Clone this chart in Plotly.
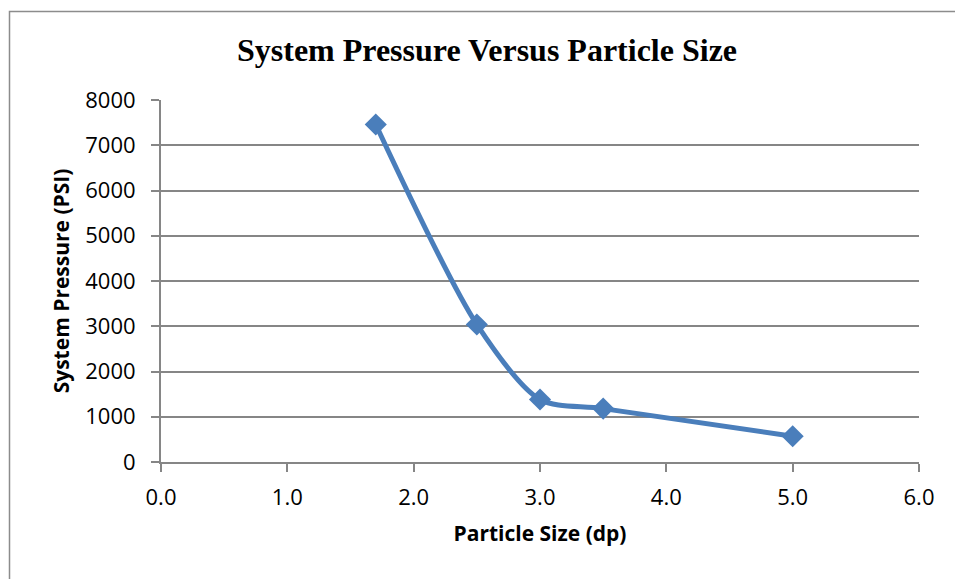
import plotly.graph_objects as go

particle_size = [1.7, 2.5, 3.0, 3.5, 5.0]
system_pressure = [7460, 3040, 1380, 1180, 570]
x_ticks = [0, 1, 2, 3, 4, 5, 6]
x_tick_labels = ["0.0", "1.0", "2.0", "3.0", "4.0", "5.0", "6.0"]
y_ticks = [0, 1000, 2000, 3000, 4000, 5000, 6000, 7000, 8000]

W, H = 955, 579
L, R, T, B = 161, 36, 100, 117
pw, ph = W - L - R, H - T - B

fig = go.Figure()
fig.add_trace(go.Scatter(
    x=particle_size, y=system_pressure, mode="lines+markers",
    line=dict(color="#4A7EBB", width=5, shape="spline", smoothing=0.8),
    marker=dict(symbol="diamond", size=17, color="#4A7EBB"),
    showlegend=False, cliponaxis=False,
))

axis_gray = "#868686"
fig.update_layout(
    width=W, height=H,
    margin=dict(l=L, r=R, t=T, b=B),
    paper_bgcolor="white", plot_bgcolor="white",
    title=dict(text="<b>System Pressure Versus Particle Size</b>",
               font=dict(family="Liberation Serif", size=32, color="black"),
               x=487 / W, xanchor="center", y=1 - 50 / H, yanchor="middle"),
    xaxis=dict(range=[0, 6], tickvals=x_ticks, ticktext=x_tick_labels,
               showgrid=False, zeroline=False, showline=True, linecolor=axis_gray, linewidth=2,
               ticks="outside", ticklen=8, tickwidth=2, tickcolor=axis_gray,
               ticklabelstandoff=7,
               tickfont=dict(family="Open Sans", size=22, color="black"),
               title=dict(text="<b>Particle Size (dp)</b>", standoff=16,
                          font=dict(family="Open Sans", size=21, color="black"))),
    yaxis=dict(range=[0, 8000], tickvals=y_ticks,
               showgrid=True, gridcolor=axis_gray, gridwidth=2,
               zeroline=False, showline=True, linecolor=axis_gray, linewidth=2,
               ticks="outside", ticklen=8, tickwidth=2, tickcolor=axis_gray,
               ticklabelstandoff=11,
               tickfont=dict(family="Open Sans", size=22, color="black"),
               title=dict(text="<b>System Pressure (PSI)</b>", standoff=10,
                          font=dict(family="Open Sans", size=21, color="black"))),
    shapes=[dict(type="rect", xref="paper", yref="paper",
                 x0=(9.5 - L) / pw, x1=(W + 20 - L) / pw,
                 y0=-(B + 20) / ph, y1=(H - B - 11.5) / ph,
                 line=dict(color="#8C8C8C", width=1.5), layer="below")],
)

fig.write_html("out.html")
